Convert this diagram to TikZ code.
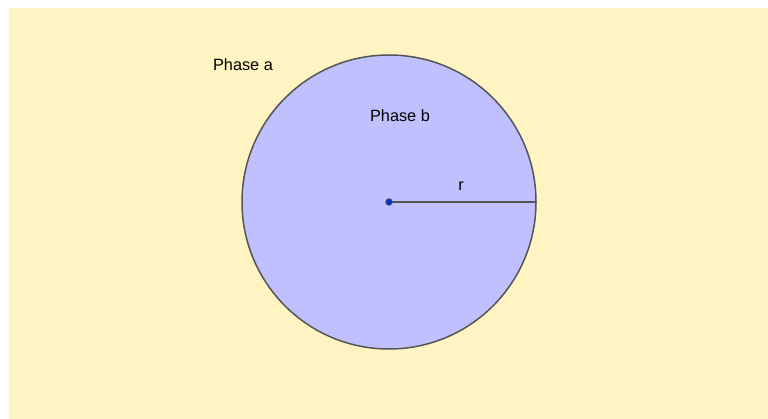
\documentclass[tikz,border=0pt]{standalone}
\usepackage{fontspec}
\setmainfont{Liberation Sans}
\definecolor{bgyellow}{HTML}{FFF4C2}
\definecolor{phaseb}{HTML}{C0C0FF}
\definecolor{edgegray}{HTML}{555555}
\definecolor{ptblue}{HTML}{0033CC}
\tikzset{
  lbl/.style={font=\fontsize{16.3}{19}\selectfont, text=black, inner sep=0pt},
}
\begin{document}
\begin{tikzpicture}[x=1pt,y=1pt]
\useasboundingbox (0,0) rectangle (768,419);
\fill[bgyellow] (9,0) rectangle (768,411);
\coordinate (c) at (389,217);
\filldraw[fill=phaseb, draw=edgegray, line width=1.5pt] (c) circle (147);
\coordinate (e) at (536,217);
\draw[edgegray, line width=1.5pt] (c) -- (e);
\filldraw[fill=ptblue, draw=black!70, line width=0.7pt] (c) circle (3.3);
\node[lbl] (pa) at (243,354) {Phase a};
\node[lbl] (pb) at (400,303) {Phase b};
\node[lbl] (r) at (461,233) {r};
\end{tikzpicture}
\end{document}
